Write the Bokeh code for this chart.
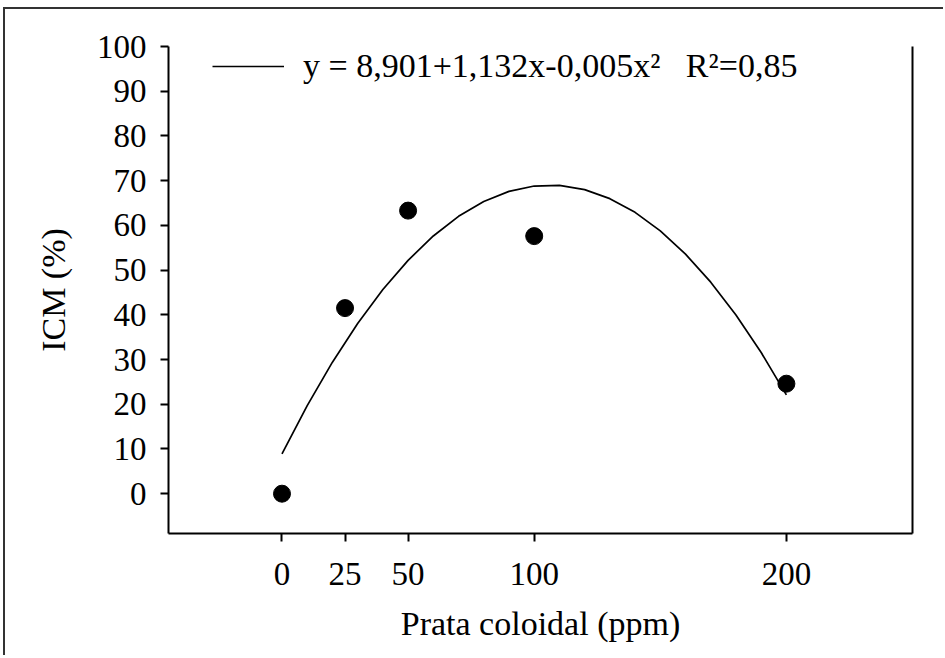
from bokeh.plotting import figure
from bokeh.models import Range1d, LinearAxis, FixedTicker, Legend, LegendItem
from bokeh.embed import file_html
from bokeh.resources import INLINE

# observed data (Prata coloidal, ppm vs ICM, %)
dose = [0, 25, 50, 100, 200]
icm = [0.0, 41.5, 63.3, 57.6, 24.6]

# fitted curve
curve_x = [0, 10, 20, 30, 40, 50, 60, 70, 80, 90, 100,
           110, 120, 130, 140, 150, 160, 170, 180, 190, 200]
curve_y = [8.90, 19.69, 29.41, 38.06, 45.65, 52.18, 57.63, 62.02, 65.35, 67.61, 68.80,
           68.93, 67.99, 65.98, 62.91, 58.78, 53.57, 47.30, 39.97, 31.57, 22.10]

x_ticks = [0, 25, 50, 100, 200]
y_ticks = [0, 10, 20, 30, 40, 50, 60, 70, 80, 90, 100]

eq_label = "y = 8,901+1,132x-0,005x\u00b2\u00a0\u00a0\u00a0R\u00b2=0,85"
x_title = "Prata coloidal (ppm)"
y_title = "ICM (%)"

FONT = "Liberation Serif"
FS_TICK = "33px"
FS_LAB = "34px"
FS_LEG = "34px"

p = figure(width=940, height=648, output_backend="svg", toolbar_location=None,
           x_range=Range1d(-45, 250), y_range=Range1d(-8.9, 100),
           min_border_left=163, min_border_right=33, min_border_top=37,
           min_border_bottom=124, x_axis_label=x_title, y_axis_label=y_title)

p.xgrid.visible = False
p.ygrid.visible = False
p.outline_line_color = None
p.background_fill_color = "white"
p.border_fill_color = "white"
p.styles = {"margin-left": "3px", "margin-top": "7px",
            "border-left": "2px solid #333333", "border-top": "2px solid #333333"}

for ax in (p.xaxis[0], p.yaxis[0]):
    ax.axis_line_color = "black"
    ax.axis_line_width = 2
    ax.major_tick_line_color = "black"
    ax.major_tick_line_width = 2
    ax.major_tick_out = 8
    ax.major_tick_in = 0
    ax.minor_tick_line_color = None
    ax.major_label_text_font = FONT
    ax.major_label_text_font_size = FS_TICK
    ax.major_label_text_color = "black"
    ax.axis_label_text_font = FONT
    ax.axis_label_text_font_size = FS_LAB
    ax.axis_label_text_font_style = "normal"
    ax.axis_label_text_color = "black"

p.xaxis[0].ticker = FixedTicker(ticks=x_ticks)
p.yaxis[0].ticker = FixedTicker(ticks=y_ticks)
p.xaxis[0].major_label_standoff = 21
p.xaxis[0].axis_label_standoff = 17
p.yaxis[0].major_label_standoff = 14
p.yaxis[0].axis_label_standoff = 22

right = LinearAxis(axis_line_color="black", axis_line_width=2,
                   major_tick_line_color=None, minor_tick_line_color=None,
                   major_label_text_color=None, major_label_text_font_size="1px",
                   ticker=FixedTicker(ticks=[]))
p.add_layout(right, "right")

curve = p.line(curve_x, curve_y, line_color="black", line_width=1.7)
p.scatter(dose, icm, size=17, fill_color="black", line_color="black")

legend = Legend(items=[LegendItem(label=eq_label, renderers=[curve])],
                location=(44, 447), glyph_width=72, glyph_height=40,
                label_standoff=19, padding=0, margin=0, spacing=0,
                border_line_color=None, background_fill_alpha=0,
                label_text_font=FONT, label_text_font_size=FS_LEG,
                label_text_color="black", label_height=40)
p.add_layout(legend)

open("out.html", "w").write(file_html(p, INLINE))
